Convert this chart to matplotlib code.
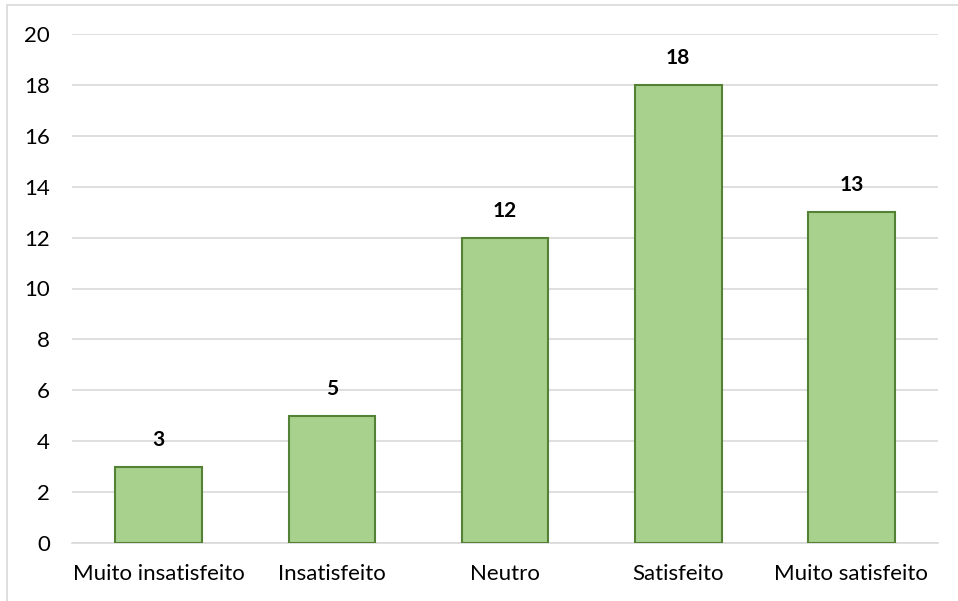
import matplotlib.pyplot as plt
from matplotlib.patches import Rectangle

categories = ['Muito insatisfeito', 'Insatisfeito', 'Neutro', 'Satisfeito', 'Muito satisfeito']
values = [3, 5, 12, 18, 13]

plt.rcParams['font.family'] = ['Lato', 'DejaVu Sans']

fig = plt.figure(figsize=(9.58, 6.01), dpi=100)
ax = fig.add_axes([72 / 958, 1 - 543 / 601, 866 / 958, 509 / 601])

bars = ax.bar(range(len(categories)), values, width=0.5,
              color='#A9D18E', edgecolor='#548235', linewidth=1.5, zorder=3)

for b, v in zip(bars, values):
    ax.annotate(str(v), (b.get_x() + b.get_width() / 2, v),
                xytext=(0, 12), textcoords='offset points',
                ha='center', va='bottom', fontsize=15, fontweight='bold', color='#000000')

ax.set_xlim(-0.5, len(categories) - 0.5)
ax.set_ylim(0, 20)
ax.set_yticks(range(0, 21, 2))
ax.set_xticks(range(len(categories)))
ax.set_xticklabels(categories, fontsize=16)
ax.tick_params(axis='y', labelsize=16, length=0, pad=16)
ax.tick_params(axis='x', length=0, pad=15)
ax.grid(axis='y', color='#D9D9D9', linewidth=1.2, zorder=0)
for s in ['top', 'right', 'left']:
    ax.spines[s].set_visible(False)
ax.spines['bottom'].set_color('#D9D9D9')
ax.spines['bottom'].set_linewidth(1.2)

# outer chart border (left and top visible)
fig.add_artist(Rectangle((7 / 958, -0.1), 1.1, (601 - 5) / 601 + 0.1,
                         transform=fig.transFigure, fill=False,
                         edgecolor='#D9D9D9', linewidth=1.2))

plt.savefig('out.png', dpi=100)
